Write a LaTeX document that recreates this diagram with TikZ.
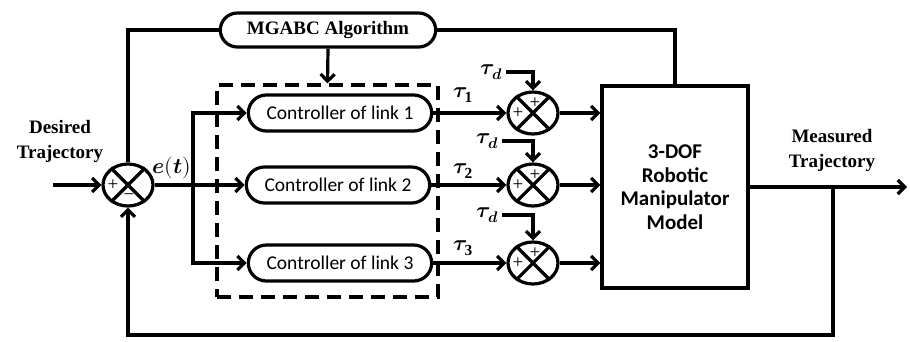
\documentclass[tikz,border=0pt]{standalone}
\usepackage{fontspec}
\usepackage{amsmath}
\usepackage{unicode-math}
\setmainfont{Liberation Serif}
\setmathfont{Latin Modern Math}
\newfontfamily\calib{Carlito}
\usetikzlibrary{arrows.meta,positioning,shapes.geometric,shapes.misc}

\begin{document}
\begin{tikzpicture}[x=1pt,y=-1pt,line width=3.2pt,
  arr/.style={-{Straight Barb[length=7pt,width=14pt]}},
  sumj/.style={draw,ellipse,minimum width=50pt,minimum height=42pt,inner sep=0pt},
  ctrl/.style={draw,rounded rectangle,minimum width=190pt,minimum height=36pt,
    font=\calib\fontsize{19.5}{22}\selectfont},
  lbl/.style={font=\bfseries\fontsize{19}{25}\selectfont,align=center},
  mth/.style={font=\fontsize{22}{25}\selectfont,inner sep=1pt},
  sgn/.style={font=\fontsize{19}{19}\selectfont,inner sep=0pt}]
  \useasboundingbox (0,0) rectangle (910,341);

  % blocks
  \node[sumj] (s0) at (128,185) {};
  \node[draw,rounded rectangle,minimum width=222pt,minimum height=34pt,
    font=\bfseries\fontsize{19}{22}\selectfont] (mg) at (328,30) {MGABC Algorithm};
  \node[draw,dash pattern=on 14pt off 8pt,minimum width=221pt,minimum height=212pt,
    inner sep=0pt] (frm) at (327.5,191) {};
  \node[ctrl] (c1) at (340,113) {Controller of link 1};
  \node[ctrl] (c2) at (338,185) {Controller of link 2};
  \node[ctrl] (c3) at (340,263) {Controller of link 3};
  \node[sumj] (s1) at (533,113) {};
  \node[sumj] (s2) at (533,185) {};
  \node[sumj] (s3) at (533,263) {};
  \node[draw,minimum width=146pt,minimum height=202pt,align=center,
    font=\calib\bfseries\fontsize{21}{23.5}\selectfont] (pl) at (675,187)
    {3-DOF\\Robotic\\Manipulator\\Model};

  % crosses and signs
  \foreach \s in {s0,s1,s2,s3} {
    \draw (\s.45) -- (\s.225) (\s.135) -- (\s.315);
    \node[sgn] (\s-l) at ([shift={(-15,0)}]\s.center) {+};
  }
  \node[sgn] (s0-b) at ([shift={(1,12)}]s0.center) {−};
  \foreach \s in {s1,s2,s3}
    \node[sgn] (\s-t) at ([shift={(2,-10)}]\s.center) {+};

  % free ends
  \coordinate (in) at (53,185);
  \coordinate (br) at (193,185);
  \coordinate (fb) at (833,187);
  \coordinate (fbl) at (833,335);
  \coordinate (out) at (907,187);
  \coordinate (td1) at (506,72);
  \coordinate (td2) at (502,141);
  \coordinate (td3) at (502,215);

  % connectors
  \draw[arr] (in) -- (s0.west);
  \draw (s0.north) |- (mg.west);
  \draw (mg.east) -| (pl.north);
  \draw[arr] (mg.south) -- (frm.north);
  \draw (s0.east) -- (br);
  \draw[arr] (br) |- (c1.west);
  \draw[arr] (br) |- (c3.west);
  \draw[arr] (br) -- (c2.west);
  \foreach \i in {1,2,3} {
    \draw[arr] (c\i.east) -- (s\i.west);
    \draw[arr] (td\i) -| (s\i.north);
    \draw[arr] (s\i.east) -- (pl.west |- s\i);
  }
  \draw[arr] (pl.east) -- (out);
  \draw[arr] (fb) -- (fbl) -| (s0.south);

  % labels
  \node[lbl] (din) at (60,141) {Desired\\Trajectory};
  \node[lbl] (mout) at (832,150) {Measured\\Trajectory};
  \node[mth] (et) at (172,168) {$\symbfit{e}\mathbf{(}\symbfit{t}\mathbf{)}$};
  \node[mth] (tq1) at (463,95) {$\symbfit{\tau}_{\mathbf{1}}$};
  \node[mth] (tq2) at (463,171) {$\symbfit{\tau}_{\mathbf{2}}$};
  \node[mth] (tq3) at (463,248) {$\symbfit{\tau}_{\mathbf{3}}$};
  \node[mth,left=1pt of td1] (tdl1) {$\symbfit{\tau}_{\symbfit{d}}$};
  \node[mth,left=1pt of td2] (tdl2) {$\symbfit{\tau}_{\symbfit{d}}$};
  \node[mth,left=1pt of td3] (tdl3) {$\symbfit{\tau}_{\symbfit{d}}$};
\end{tikzpicture}
\end{document}
